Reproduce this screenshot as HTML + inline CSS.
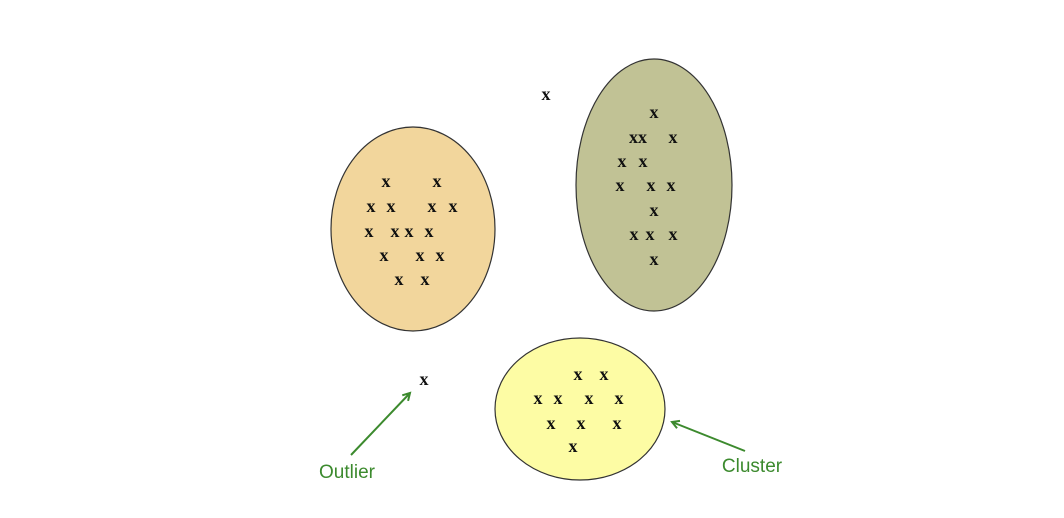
<!DOCTYPE html>
<html><head><meta charset="utf-8"><style>
html,body{margin:0;padding:0;background:#fff;width:1064px;height:518px;overflow:hidden}
svg text.x{font-family:"Liberation Serif",serif;font-weight:bold;font-size:18px;fill:#111;text-anchor:middle}
svg text.l{font-family:"Liberation Sans",sans-serif;font-size:19px;fill:#3c8a2e;text-anchor:middle}
</style></head><body>
<svg width="1064" height="518" viewBox="0 0 1064 518" xmlns="http://www.w3.org/2000/svg">
<defs><marker id="a" markerWidth="10" markerHeight="10" refX="8" refY="5" orient="auto" markerUnits="userSpaceOnUse"><path d="M1,1 L8,5 L1,9" fill="none" stroke="#3c8a2e" stroke-width="2"/></marker></defs>
<ellipse cx="413" cy="229" rx="82" ry="102" fill="#f2d69c" stroke="#333" stroke-width="1.2"/>
<ellipse cx="654" cy="185" rx="78" ry="126" fill="#c1c295" stroke="#333" stroke-width="1.2"/>
<ellipse cx="580" cy="409" rx="85" ry="71" fill="#fdfca4" stroke="#333" stroke-width="1.2"/>
<g>
<text class="x" x="386" y="187">x</text><text class="x" x="437" y="187">x</text>
<text class="x" x="371" y="212">x</text><text class="x" x="391" y="212">x</text><text class="x" x="432" y="212">x</text><text class="x" x="453" y="212">x</text>
<text class="x" x="369" y="237">x</text><text class="x" x="395" y="237">x</text><text class="x" x="409" y="237">x</text><text class="x" x="429" y="237">x</text>
<text class="x" x="384" y="261">x</text><text class="x" x="420" y="261">x</text><text class="x" x="440" y="261">x</text>
<text class="x" x="399" y="285">x</text><text class="x" x="425" y="285">x</text>

<text class="x" x="654" y="118">x</text>
<text class="x" x="638" y="143">xx</text><text class="x" x="673" y="143">x</text>
<text class="x" x="622" y="167">x</text><text class="x" x="643" y="167">x</text>
<text class="x" x="620" y="191">x</text><text class="x" x="651" y="191">x</text><text class="x" x="671" y="191">x</text>
<text class="x" x="654" y="216">x</text>
<text class="x" x="634" y="240">x</text><text class="x" x="650" y="240">x</text><text class="x" x="673" y="240">x</text>
<text class="x" x="654" y="265">x</text>

<text class="x" x="578" y="380">x</text><text class="x" x="604" y="380">x</text>
<text class="x" x="538" y="404">x</text><text class="x" x="558" y="404">x</text><text class="x" x="589" y="404">x</text><text class="x" x="619" y="404">x</text>
<text class="x" x="551" y="429">x</text><text class="x" x="581" y="429">x</text><text class="x" x="617" y="429">x</text>
<text class="x" x="573" y="452">x</text>

<text class="x" x="546" y="100">x</text>
<text class="x" x="424" y="385">x</text>
</g>
<line x1="351" y1="455" x2="410" y2="393" stroke="#3c8a2e" stroke-width="2" marker-end="url(#a)"/>
<line x1="745" y1="451" x2="672" y2="422" stroke="#3c8a2e" stroke-width="2" marker-end="url(#a)"/>
<text class="l" x="347" y="478">Outlier</text>
<text class="l" x="752" y="472">Cluster</text>
</svg>
</body></html>
